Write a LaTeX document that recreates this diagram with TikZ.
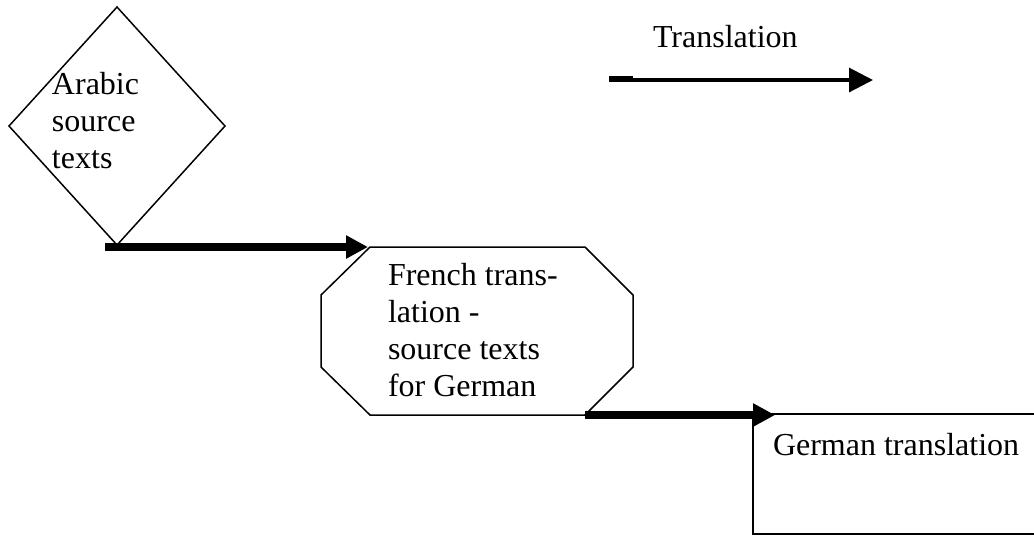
\documentclass[tikz,border=0pt]{standalone}
\usepackage{fontspec}
\setmainfont{Liberation Serif}
\usetikzlibrary{shapes.geometric,arrows.meta,calc}

\tikzset{
  thinline/.style={line width=0.56pt},
  lbl/.style={inner sep=0pt, outer sep=0pt, anchor=base west, align=left,
              font=\fontsize{12}{13.875}\selectfont},
  flowarrow/.style={line width=3pt, line cap=butt,
                    -{Triangle[length=8.25pt,width=8.25pt]}},
  keyarrow/.style={line width=1.15pt, line cap=butt,
                   -{Triangle[length=9pt,width=9pt]}},
}

\begin{document}
\begin{tikzpicture}[x=0.375pt, y=-0.375pt]
  \useasboundingbox (0,0) rectangle (1034,535);
  \clip (0,0) rectangle (1034,535);

  % source texts
  \node[thinline, draw, diamond, inner sep=0pt, outer sep=0pt,
        minimum width=81pt, minimum height=89.25pt] (arabic) at (117,126) {};
  % (base anchor of a multi-line label sits on its last line)
  \node[lbl] (arabictxt) at (52,168) {Arabic\\source\\texts};

  % intermediate French translation: octagon with cut corners
  \node[rectangle, inner sep=0pt, outer sep=0pt,
        minimum width=117pt, minimum height=63pt] (french) at (477,331) {};
  \draw[thinline]
    ($(french.north west)+(49,0)$) -- ($(french.north east)+(-48,0)$)
    -- ($(french.north east)+(0,48)$) -- ($(french.south east)+(0,-48)$)
    -- ($(french.south east)+(-48,0)$) -- ($(french.south west)+(49,0)$)
    -- ($(french.south west)+(0,-48)$) -- ($(french.north west)+(0,48)$)
    -- cycle;
  \node[lbl] (frenchtxt) at (388,396) {French trans-\\lation -\\source texts\\for German};

  % German translation box (runs past the right and bottom edges)
  \node[draw, line width=0.7pt, rectangle, inner sep=0pt, outer sep=0pt,
        minimum width=130.1pt, minimum height=45pt] (german) at (926.5,474) {};
  \node[lbl] (germantxt) at (773,455) {German translation};

  % translation steps (kept horizontal)
  \coordinate (step1from) at ($(arabic.south)+(-12,2)$);
  \coordinate (step1to)   at ($(french.north west)+(47,0)$);
  \draw[flowarrow] (step1from) -- (step1from -| step1to);
  \coordinate (step2from) at ($(french.south east)+(-48,0)$);
  \coordinate (step2to)   at ($(german.north west)+(22,0)$);
  \draw[flowarrow] (step2from) -- (step2from -| step2to);

  % key
  \node[lbl] (keytxt) at (653,47) {Translation};
  \coordinate (keyA) at (609,80);
  \coordinate (keyB) at (873,80);
  \draw[keyarrow] (keyA) -- (keyB);
  \fill (keyA) ++(0,-4) rectangle ++(24,6);
\end{tikzpicture}
\end{document}
